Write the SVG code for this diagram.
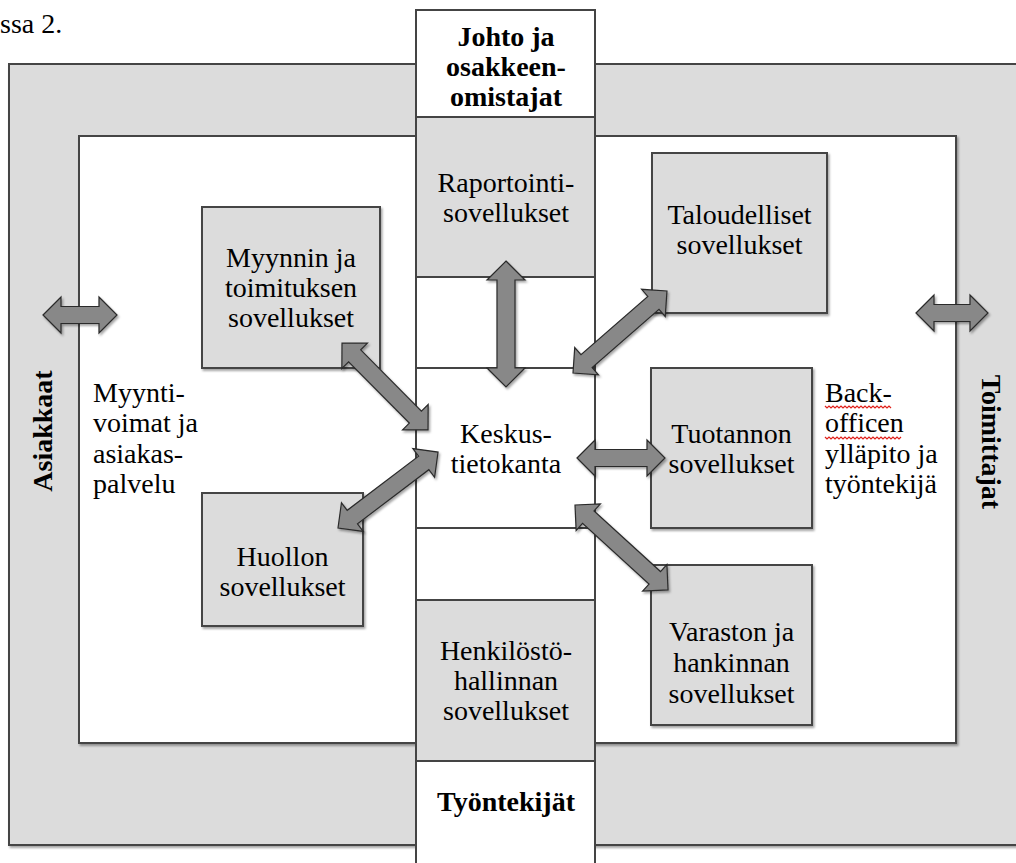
<svg xmlns="http://www.w3.org/2000/svg" width="1016" height="863" viewBox="0 0 1016 863">
<style>
text{font-family:'Liberation Serif','DejaVu Serif',serif}
.t{font-size:28px;fill:#000;text-anchor:middle}
.l{text-anchor:start}
.b{font-weight:bold;font-size:28px}
.g{fill:#dcdcdc;stroke:#444;stroke-width:2}
.w{fill:#fff;stroke:#444;stroke-width:2}
.arr{fill:#888;stroke:#2a2a2a;stroke-width:1.2;stroke-linejoin:miter}
.sq{fill:none;stroke:#e0201a;stroke-width:1.2}
</style>
<defs>
<filter id="sh" x="-5%" y="-5%" width="115%" height="115%">
<feDropShadow dx="1.5" dy="2" stdDeviation="1.2" flood-color="#000" flood-opacity="0.35"/>
</filter>
</defs>
<rect width="1016" height="863" fill="#fff"/>
<text class="t l" x="0" y="33">ssa 2.</text>
<g id="outer"><rect class="g" x="9" y="64" width="1020" height="781" filter="url(#sh)"/></g>
<g id="inner"><rect class="w" x="79" y="136" width="877" height="607" filter="url(#sh)"/></g>
<g id="asiakkaat"><text class="t b" transform="translate(52,431) rotate(-90)">Asiakkaat</text></g>
<g id="toimittajat"><text class="t b" transform="translate(982,442) rotate(90)">Toimittajat</text></g>
<g id="column"><rect class="w" x="416" y="10" width="179" height="870"/></g>
<g id="johto"><rect class="w" x="416" y="10" width="179" height="107"/>
<text class="t b" x="506" y="46">Johto ja</text><text class="t b" x="506" y="76">osakkeen-</text><text class="t b" x="506" y="106">omistajat</text></g>
<g id="raportointi"><rect class="g" x="416" y="117" width="179" height="160"/>
<text class="t" x="506" y="192">Raportointi-</text><text class="t" x="506" y="222">sovellukset</text></g>
<g id="keskus"><rect class="w" x="416" y="368" width="179" height="160"/>
<text class="t" x="506" y="443">Keskus-</text><text class="t" x="506" y="473">tietokanta</text></g>
<g id="henkilosto"><rect class="g" x="416" y="600" width="179" height="161"/>
<text class="t" x="506" y="660">Henkilöstö-</text><text class="t" x="506" y="690">hallinnan</text><text class="t" x="506" y="720">sovellukset</text></g>
<g id="tyontekijat"><rect class="w" x="416" y="761" width="179" height="120"/>
<text class="t b" x="506" y="811">Työntekijät</text></g>
<g id="myynnin"><rect class="g" x="202" y="207" width="178" height="161" filter="url(#sh)"/>
<text class="t" x="291" y="267">Myynnin ja</text><text class="t" x="291" y="297">toimituksen</text><text class="t" x="291" y="327">sovellukset</text></g>
<g id="huollon"><rect class="g" x="202" y="493" width="161" height="133" filter="url(#sh)"/>
<text class="t" x="282.5" y="566">Huollon</text><text class="t" x="282.5" y="596">sovellukset</text></g>
<g id="taloudelliset"><rect class="g" x="652" y="153" width="175" height="160" filter="url(#sh)"/>
<text class="t" x="739.5" y="224">Taloudelliset</text><text class="t" x="739.5" y="254">sovellukset</text></g>
<g id="tuotannon"><rect class="g" x="651" y="368" width="161" height="160" filter="url(#sh)"/>
<text class="t" x="731.5" y="443">Tuotannon</text><text class="t" x="731.5" y="473">sovellukset</text></g>
<g id="varaston"><rect class="g" x="651" y="565" width="161" height="160" filter="url(#sh)"/>
<text class="t" x="731.5" y="641">Varaston ja</text><text class="t" x="731.5" y="672">hankinnan</text><text class="t" x="731.5" y="703">sovellukset</text></g>
<g id="myyntivoimat"><text class="t l" x="93" y="402">Myynti-</text><text class="t l" x="93" y="432">voimat ja</text><text class="t l" x="93" y="463">asiakas-</text><text class="t l" x="93" y="493">palvelu</text></g>
<g id="backoffice"><text class="t l" x="825" y="402">Back-</text><text class="t l" x="825" y="432">officen</text><text class="t l" x="825" y="463">ylläpito ja</text><text class="t l" x="825" y="493">työntekijä</text>
<path class="sq" d="M825 406 l2 2 l2 -2 l2 2 l2 -2 l2 2 l2 -2 l2 2 l2 -2 l2 2 l2 -2 l2 2 l2 -2 l2 2 l2 -2 l2 2 l2 -2 l2 2 l2 -2 l2 2 l2 -2 l2 2 l2 -2 l2 2 l2 -2 l2 2 l2 -2 l2 2 l2 -2 l2 2 l2 -2 l2 2 l2 -2 l2 2"/>
<path class="sq" d="M825 437 l2 2 l2 -2 l2 2 l2 -2 l2 2 l2 -2 l2 2 l2 -2 l2 2 l2 -2 l2 2 l2 -2 l2 2 l2 -2 l2 2 l2 -2 l2 2 l2 -2 l2 2 l2 -2 l2 2 l2 -2 l2 2 l2 -2 l2 2 l2 -2 l2 2 l2 -2 l2 2 l2 -2 l2 2 l2 -2 l2 2 l2 -2 l2 2 l2 -2 l2 2 l2 -2"/></g>
<g id="connectors" filter="url(#sh)">
<polygon class="arr" transform="translate(43,315)" points="0,0 18,-18 18,-8.5 56,-8.5 56,-18 74,0 56,18 56,8.5 18,8.5 18,18"/>
<polygon class="arr" transform="translate(916,313)" points="0,0 18,-18 18,-8.5 54,-8.5 54,-18 72,0 54,18 54,8.5 18,8.5 18,18"/>
<polygon class="arr" transform="translate(506,261) rotate(90)" points="0,0 19,-19 19,-9 107,-9 107,-19 126,0 107,19 107,9 19,9 19,19"/>
<polygon class="arr" transform="translate(342,343) rotate(45.3)" points="0,0 18,-18 18,-8.5 104.3,-8.5 104.3,-18 122.3,0 104.3,18 104.3,8.5 18,8.5 18,18"/>
<polygon class="arr" transform="translate(338,528) rotate(-37.2)" points="0,0 18,-18 18,-8.5 107.6,-8.5 107.6,-18 125.6,0 107.6,18 107.6,8.5 18,8.5 18,18"/>
<polygon class="arr" transform="translate(573,373) rotate(-41.1)" points="0,0 18,-18 18,-8.5 106.7,-8.5 106.7,-18 124.7,0 106.7,18 106.7,8.5 18,8.5 18,18"/>
<polygon class="arr" transform="translate(577,458)" points="0,0 18,-18 18,-8.5 70,-8.5 70,-18 88,0 70,18 70,8.5 18,8.5 18,18"/>
<polygon class="arr" transform="translate(575,505) rotate(42.4)" points="0,0 18,-18 18,-8.5 108,-8.5 108,-18 126,0 108,18 108,8.5 18,8.5 18,18"/>
</g>
</svg>
